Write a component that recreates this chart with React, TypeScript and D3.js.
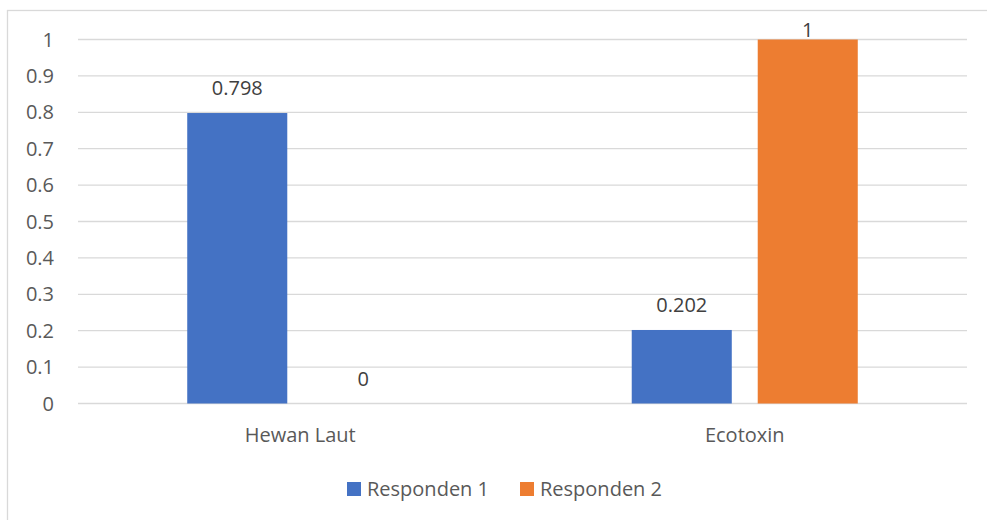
import React from "react";
import * as d3 from "d3";

// Chart data
const categories = ["Hewan Laut", "Ecotoxin"];
const seriesNames = ["Responden 1", "Responden 2"];
const responden1 = [0.798, 0.202];
const responden2 = [0, 1];
const valueLabels1 = ["0.798", "0.202"];
const valueLabels2 = ["0", "1"];
const tickValues = [0, 0.1, 0.2, 0.3, 0.4, 0.5, 0.6, 0.7, 0.8, 0.9, 1];
const tickLabels = ["0", "0.1", "0.2", "0.3", "0.4", "0.5", "0.6", "0.7", "0.8", "0.9", "1"];

const colors = ["#4472C4", "#ED7D31"];
const W = 987;
const H = 520;
const FONT = "'Open Sans', 'Segoe UI', sans-serif";
const TEXT = "#595959";

export default function App() {
  const plot = { left: 78, right: 967, top: 39.5, bottom: 403.5 };

  const y = d3.scaleLinear().domain([0, 1]).range([plot.bottom, plot.top]);
  const x0 = d3.scaleBand<string>().domain(categories).range([plot.left, plot.right]).padding(0);
  const x1 = d3
    .scaleBand<string>()
    .domain(seriesNames)
    .range([0, x0.bandwidth()])
    .paddingInner(0.206)
    .paddingOuter(0.867);

  const seriesValues = [responden1, responden2];
  const seriesLabels = [valueLabels1, valueLabels2];

  return (
    <svg
      width={W}
      height={H}
      style={{ position: "fixed", left: 0, top: 0, background: "#fff" }}
      fontFamily={FONT}
    >
      <rect x={0} y={0} width={W} height={H} fill="#fff" />
      {/* chart frame */}
      <rect x={7.5} y={10.5} width={W + 10} height={H + 10} fill="none" stroke="#d9d9d9" strokeWidth={1.3} />

      {/* gridlines and y tick labels */}
      {tickValues.map((t, i) => (
        <g key={i}>
          <line x1={plot.left} x2={plot.right} y1={y(t)} y2={y(t)} stroke="#d9d9d9" strokeWidth={1.3} />
          <text x={54} y={y(t)} dy="0.35em" textAnchor="end" fontSize={20} fill={TEXT}>
            {tickLabels[i]}
          </text>
        </g>
      ))}

      {/* bars */}
      {seriesNames.map((s, si) =>
        categories.map((c, ci) => {
          const v = seriesValues[si][ci];
          const bx = (x0(c) ?? 0) + (x1(s) ?? 0);
          const by = y(v);
          const labelY = Math.max(by - 17.7, plot.top - 2.8);
          return (
            <g key={`${si}-${ci}`}>
              <rect x={bx} y={by} width={x1.bandwidth()} height={plot.bottom - by} fill={colors[si]} />
              <text x={bx + x1.bandwidth() / 2} y={labelY} textAnchor="middle" fontSize={20} fill="#404040">
                {seriesLabels[si][ci]}
              </text>
            </g>
          );
        })
      )}

      {/* category labels */}
      {categories.map((c) => (
        <text
          key={c}
          x={(x0(c) ?? 0) + x0.bandwidth() / 2}
          y={435}
          dy="0.35em"
          textAnchor="middle"
          fontSize={20}
          fill={TEXT}
        >
          {c}
        </text>
      ))}

      {/* legend */}
      {seriesNames.map((s, i) => {
        const lx = [347, 520][i];
        return (
          <g key={s}>
            <rect x={lx} y={482} width={14} height={14} fill={colors[i]} />
            <text x={lx + 20} y={489} dy="0.35em" fontSize={20} fill={TEXT}>
              {s}
            </text>
          </g>
        );
      })}
    </svg>
  );
}
